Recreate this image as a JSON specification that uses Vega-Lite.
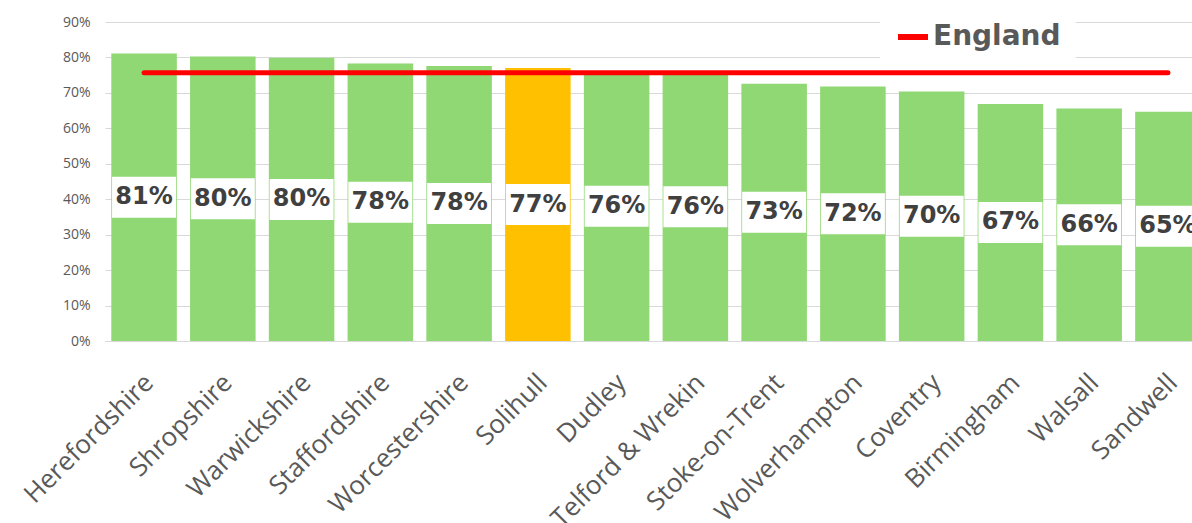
{
  "$schema": "https://vega.github.io/schema/vega-lite/v6.json",
  "width": 1087,
  "height": 319,
  "autosize": "none",
  "padding": {"left": 105, "top": 22, "right": 0, "bottom": 182},
  "background": "white",
  "config": {
    "view": {"stroke": null},
    "font": "Open Sans",
    "axisY": {
      "format": ".0%",
      "values": [0, 0.1, 0.2, 0.3, 0.4, 0.5, 0.6, 0.7, 0.8, 0.9],
      "labelFontSize": 14,
      "labelColor": "#595959",
      "labelPadding": 15,
      "labelOverlap": false,
      "ticks": false,
      "domain": false,
      "grid": true,
      "gridColor": "#D9D9D9",
      "gridWidth": 1,
      "title": null
    }
  },
  "data": {
    "values": [
      {"area": "Herefordshire", "value": 0.811, "england": 0.757},
      {"area": "Shropshire", "value": 0.803, "england": 0.757},
      {"area": "Warwickshire", "value": 0.799, "england": 0.757},
      {"area": "Staffordshire", "value": 0.783, "england": 0.757},
      {"area": "Worcestershire", "value": 0.776, "england": 0.757},
      {"area": "Solihull", "value": 0.770, "england": 0.757},
      {"area": "Dudley", "value": 0.760, "england": 0.757},
      {"area": "Telford & Wrekin", "value": 0.758, "england": 0.757},
      {"area": "Stoke-on-Trent", "value": 0.726, "england": 0.757},
      {"area": "Wolverhampton", "value": 0.718, "england": 0.757},
      {"area": "Coventry", "value": 0.704, "england": 0.757},
      {"area": "Birmingham", "value": 0.669, "england": 0.757},
      {"area": "Walsall", "value": 0.656, "england": 0.757},
      {"area": "Sandwell", "value": 0.647, "england": 0.757}
    ]
  },
  "transform": [{"calculate": "datum.value / 2", "as": "mid"}],
  "encoding": {
    "x": {
      "field": "area",
      "type": "nominal",
      "sort": null,
      "title": null,
      "scale": {"paddingInner": 0.168, "paddingOuter": 0.08, "range": [0, 1102]},
      "axis": {
        "labelAngle": -45,
        "labelFontSize": 26,
        "labelColor": "#595959",
        "labelFont": "Open Sans",
        "labelLimit": 0,
        "ticks": false,
        "domainColor": "#D9D9D9",
        "labelPadding": 28,
        "labelOffset": -4,
        "labelOverlap": false
      }
    }
  },
  "layer": [
    {
      "mark": {"type": "bar"},
      "encoding": {
        "y": {
          "field": "value",
          "type": "quantitative",
          "title": null,
          "scale": {"domain": [0, 0.9]}
        },
        "color": {
          "condition": {"test": "datum.area === 'Solihull'", "value": "#FFC000"},
          "value": "#8FD873"
        }
      }
    },
    {
      "mark": {"type": "line", "strokeWidth": 5, "strokeCap": "round"},
      "encoding": {
        "y": {"field": "england", "type": "quantitative", "title": null},
        "color": {
          "datum": "England",
          "type": "nominal",
          "scale": {"range": ["#FF0000"]},
          "legend": {
            "title": null,
            "orient": "none",
            "legendX": 775,
            "legendY": -18,
            "fillColor": "white",
            "padding": 15,
            "symbolType": "stroke",
            "symbolSize": 900,
            "symbolStrokeWidth": 6,
            "symbolStrokeColor": "#FF0000",
            "labelFont": "DejaVu Sans",
            "labelFontWeight": "bold",
            "labelFontSize": 28,
            "labelColor": "#595959",
            "labelOffset": 2
          }
        }
      }
    },
    {
      "mark": {"type": "tick", "color": "white", "thickness": 41, "size": 64, "opacity": 1},
      "encoding": {
        "y": {"field": "mid", "type": "quantitative"}
      }
    },
    {
      "mark": {"type": "text", "font": "DejaVu Sans", "fontWeight": "bold", "fontSize": 24, "color": "#404040", "baseline": "middle"},
      "encoding": {
        "y": {"field": "mid", "type": "quantitative"},
        "text": {"field": "value", "type": "quantitative", "format": ".0%"}
      }
    }
  ]
}
